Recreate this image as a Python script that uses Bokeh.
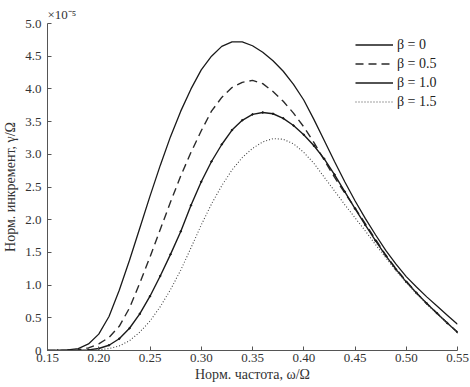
from bokeh.plotting import figure
from bokeh.models import FixedTicker, CustomJSTickFormatter, Title, Legend, LegendItem, Range1d
from bokeh.embed import file_html
from bokeh.resources import INLINE

# Normalized frequency omega/Omega
freq = [0.15, 0.16, 0.17, 0.18, 0.19, 0.20, 0.21, 0.22, 0.23, 0.24,
        0.25, 0.26, 0.27, 0.28, 0.29, 0.30, 0.31, 0.32, 0.33, 0.34,
        0.35, 0.36, 0.37, 0.38, 0.39, 0.40, 0.41, 0.42, 0.43, 0.44,
        0.45, 0.46, 0.47, 0.48, 0.49, 0.50, 0.51, 0.52, 0.53, 0.54, 0.55]

# Normalized growth rate gamma/Omega, units of 1e-5
beta_0 = [0.00, 0.00, 0.01, 0.03, 0.10, 0.25, 0.52, 0.92, 1.38, 1.87,
          2.36, 2.83, 3.27, 3.66, 4.00, 4.29, 4.50, 4.65, 4.72, 4.72,
          4.66, 4.56, 4.43, 4.27, 4.07, 3.83, 3.53, 3.21, 2.89, 2.58,
          2.29, 2.02, 1.77, 1.53, 1.32, 1.13, 0.97, 0.82, 0.68, 0.54, 0.40]
beta_05 = [0.00, 0.00, 0.00, 0.01, 0.04, 0.10, 0.20, 0.37, 0.65, 1.03,
           1.43, 1.85, 2.27, 2.67, 3.03, 3.36, 3.66, 3.87, 4.02, 4.10,
           4.13, 4.08, 3.96, 3.81, 3.63, 3.42, 3.18, 2.91, 2.65, 2.41,
           2.18, 1.94, 1.70, 1.46, 1.25, 1.06, 0.88, 0.72, 0.57, 0.42, 0.28]
beta_10 = [0.00, 0.00, 0.00, 0.00, 0.01, 0.03, 0.08, 0.18, 0.34, 0.56,
           0.83, 1.14, 1.47, 1.82, 2.22, 2.58, 2.89, 3.15, 3.37, 3.52,
           3.61, 3.64, 3.62, 3.55, 3.44, 3.30, 3.13, 2.93, 2.69, 2.43,
           2.17, 1.92, 1.68, 1.45, 1.24, 1.05, 0.88, 0.72, 0.57, 0.42, 0.28]
beta_15 = [0.00, 0.00, 0.00, 0.00, 0.00, 0.01, 0.03, 0.07, 0.15, 0.28,
           0.45, 0.67, 0.93, 1.23, 1.57, 1.92, 2.24, 2.52, 2.76, 2.95,
           3.09, 3.19, 3.24, 3.23, 3.16, 3.03, 2.86, 2.65, 2.44, 2.23,
           2.03, 1.83, 1.62, 1.42, 1.22, 1.04, 0.87, 0.71, 0.56, 0.42, 0.27]

labels = ["β = 0", "β = 0.5", "β = 1.0", "β = 1.5"]
x_ticks = [0.15, 0.20, 0.25, 0.30, 0.35, 0.40, 0.45, 0.50, 0.55]
y_ticks = [0, 0.5, 1.0, 1.5, 2.0, 2.5, 3.0, 3.5, 4.0, 4.5, 5.0]
scale_text = "×10⁻⁵"

FONT = "Liberation Serif"

p = figure(width=470, height=387, output_backend="svg", toolbar_location=None,
           x_range=Range1d(0.15, 0.55), y_range=Range1d(0, 5.0),
           min_border_left=44, min_border_right=13, min_border_top=23, min_border_bottom=37)
p.outline_line_color = None
p.grid.visible = False
p.background_fill_color = "white"

r0 = p.line(freq, beta_0, line_color="#1a1a1a", line_width=1.3)
r1 = p.line(freq, beta_05, line_color="#2a2a2a", line_width=1.4, line_dash="8 5")
r2 = p.line(freq, beta_10, line_color="#1a1a1a", line_width=1.4)
p.scatter(freq, beta_10, size=1.6, color="#1a1a1a")
r3 = p.line(freq, beta_15, line_color="#444444", line_width=1.1, line_dash="1 2")

legend = Legend(items=[LegendItem(label=labels[0], renderers=[r0]),
                       LegendItem(label=labels[1], renderers=[r1]),
                       LegendItem(label=labels[2], renderers=[r2]),
                       LegendItem(label=labels[3], renderers=[r3])],
                location=(306, 237))
legend.border_line_alpha = 0
legend.background_fill_alpha = 0
legend.label_text_font = FONT
legend.label_text_font_size = "14px"
legend.label_text_color = "#222222"
legend.glyph_width = 38
legend.glyph_height = 19
legend.label_height = 19
legend.spacing = 0
legend.padding = 2
legend.margin = 0
legend.label_standoff = 4
p.add_layout(legend, "center")

for ax in (p.xaxis[0], p.yaxis[0]):
    ax.axis_line_color = "#555555"
    ax.major_tick_line_color = "#555555"
    ax.major_tick_in = 4
    ax.major_tick_out = 0
    ax.minor_tick_line_color = None
    ax.major_label_text_font = FONT
    ax.major_label_text_font_size = "13px"
    ax.major_label_text_color = "#333333"
    ax.axis_label_text_font = FONT
    ax.axis_label_text_font_size = "14px"
    ax.axis_label_text_font_style = "normal"
    ax.axis_label_text_color = "#333333"

p.xaxis.ticker = FixedTicker(ticks=x_ticks)
p.yaxis.ticker = FixedTicker(ticks=y_ticks)
p.xaxis.formatter = CustomJSTickFormatter(code="return tick.toFixed(2);")
p.yaxis.formatter = CustomJSTickFormatter(code="return tick == 0 ? '0' : tick.toFixed(1);")
p.xaxis.major_label_standoff = 3
p.yaxis.major_label_standoff = 6
p.xaxis.axis_label = "Норм. частота, ω/Ω"
p.yaxis.axis_label = "Норм. инкремент, γ/Ω"
p.xaxis.axis_label_standoff = 2
p.yaxis.axis_label_standoff = 4

title = Title(text=scale_text, align="left", text_font=FONT, text_font_size="13px",
              text_font_style="normal", text_color="#333333", standoff=3, offset=0)
p.add_layout(title, "above")

open("out.html", "w").write(file_html(p, INLINE))
